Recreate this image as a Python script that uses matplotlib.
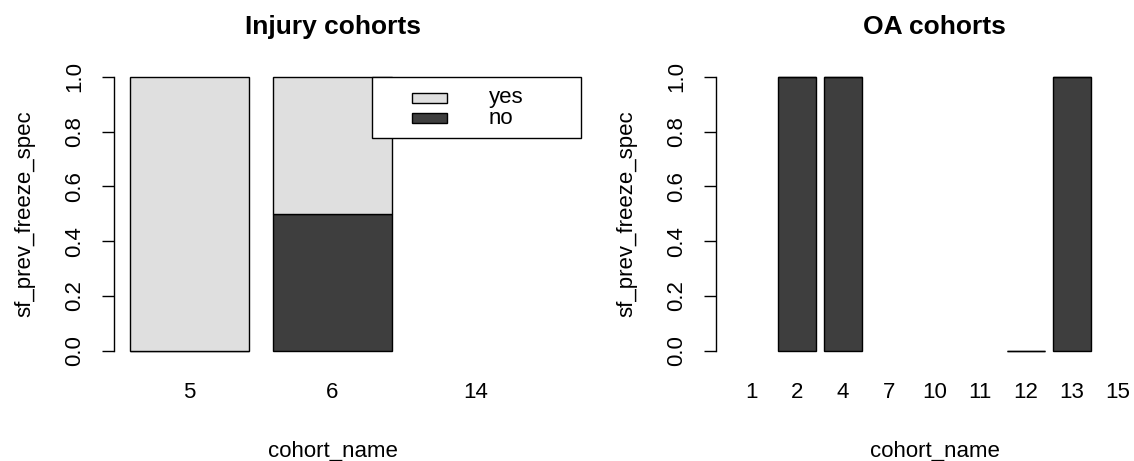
import numpy as np
import matplotlib.pyplot as plt
from matplotlib.patches import Rectangle

# data: share of "no"/"yes" per cohort (nan = no data, bar not drawn)
injury_cohorts = ['5', '6', '14']
injury_no = [0.0, 0.5, np.nan]
injury_yes = [1.0, 0.5, np.nan]

oa_cohorts = ['1', '2', '4', '7', '10', '11', '12', '13', '15']
oa_no = [np.nan, 1.0, 1.0, np.nan, np.nan, np.nan, 0.0, 1.0, np.nan]
oa_yes = [np.nan, 0.0, 0.0, np.nan, np.nan, np.nan, 0.0, 0.0, np.nan]

legend_labels = ['yes', 'no']
y_ticks = [0.0, 0.2, 0.4, 0.6, 0.8, 1.0]

col_yes = '#dfdfdf'
col_no = '#3e3e3e'

plt.rcParams['font.family'] = ['Liberation Sans', 'DejaVu Sans']

W, H = 1134, 461
fig = plt.figure(figsize=(W / 100, H / 100), dpi=100)

# R-like layout (pixels): plot width, y of value 0 and 1
plot_w = 437
y0_px, y1_px = 350.5, 77
ylim = (-0.0504, 1.0404)
ppu = (y0_px - y1_px) / 1.0
top_px = y1_px - (ylim[1] - 1.0) * ppu
bot_px = y0_px - ylim[0] * ppu
fs = 16


def panel(left_px, cohorts, no, yes, title):
    ax = fig.add_axes([left_px / W, 1 - bot_px / H, plot_w / W, (bot_px - top_px) / H])
    n = len(cohorts)
    x = 0.7 + 1.2 * np.arange(n)
    ext = 0.04 * (1.2 * n - 0.2)
    ax.set_xlim(0.2 - ext, 1.2 * n + ext)
    ax.set_ylim(*ylim)

    no = np.array(no)
    yes = np.array(yes)
    ax.bar(x, no, width=1.0, color=col_no, edgecolor='black', linewidth=1.0)
    ax.bar(x, yes, width=1.0, bottom=no, color=col_yes, edgecolor='black', linewidth=1.0)

    for s in ['top', 'right', 'bottom']:
        ax.spines[s].set_visible(False)
    ax.spines['left'].set_bounds(0, 1)
    ax.spines['left'].set_linewidth(1.0)

    ax.set_yticks(y_ticks)
    ax.set_yticklabels([f'{v:.1f}' for v in y_ticks], rotation=90, va='center')
    ax.tick_params(axis='y', length=8.3, width=1.0, pad=12.5, labelsize=fs)
    ax.set_xticks(x)
    ax.set_xticklabels(cohorts)
    ax.tick_params(axis='x', length=0, pad=13, labelsize=fs)

    cx = (left_px + plot_w / 2) / W
    fig.text(cx, 1 - 27 / H, title, ha='center', va='center', fontsize=19, fontweight='bold')
    fig.text(cx, 4 / H, 'cohort_name', ha='center', va='baseline', fontsize=fs)
    fig.text((left_px - 89) / W, 1 - (y0_px + y1_px) / 2 / H, 'sf_prev_freeze_spec',
             rotation=90, ha='center', va='center', fontsize=fs)
    return ax


ax1 = panel(114, injury_cohorts, injury_no, injury_yes, 'Injury cohorts')
ax2 = panel(716, oa_cohorts, oa_no, oa_yes, 'OA cohorts')

# legend box, R style
fig.patches.append(Rectangle((372 / W, 1 - 138 / H), 209 / W, 61 / H, transform=fig.transFigure,
                             facecolor='white', edgecolor='black', linewidth=1.0, zorder=5))
for i, (lab, c) in enumerate(zip(legend_labels, [col_yes, col_no])):
    yc = 97.5 + 20.5 * i
    fig.patches.append(Rectangle((412 / W, 1 - (yc + 5) / H), 35 / W, 10 / H, transform=fig.transFigure,
                                 facecolor=c, edgecolor='black', linewidth=1.0, zorder=6))
    fig.text(489 / W, 1 - yc / H, lab, ha='left', va='center', fontsize=fs, zorder=7)

fig.savefig('out.png', dpi=100)
